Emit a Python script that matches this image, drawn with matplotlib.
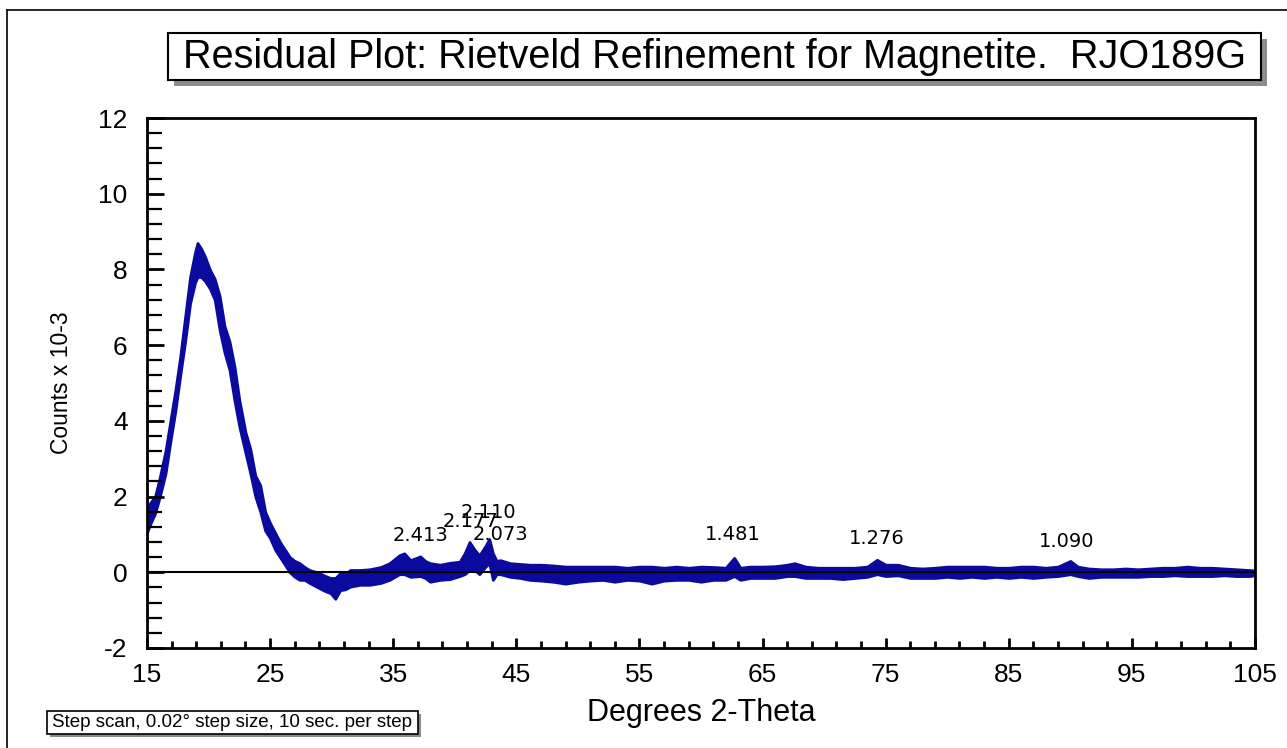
import numpy as np
import matplotlib
matplotlib.use("Agg")
import matplotlib.pyplot as plt
from matplotlib.patches import Rectangle
from matplotlib.lines import Line2D

plt.rcParams['font.family'] = ['Liberation Sans', 'DejaVu Sans']
plt.rcParams['axes.unicode_minus'] = False

# residual band: 2-theta, upper and lower edge (counts x 10-3)
two_theta = [15.0, 15.3, 15.65, 16.0, 16.5, 16.9, 17.3, 17.7, 18.1, 18.5, 18.9, 19.1,
             19.4, 19.7, 20.1, 20.5, 20.9, 21.3, 21.7, 22.1, 22.5, 23.0, 23.4, 23.8,
             24.2, 24.6, 25.0, 25.4, 25.8, 26.2, 26.6, 27.0, 27.4, 27.8, 28.2, 28.6,
             29.0, 29.5, 29.9, 30.3, 30.7, 31.1, 31.5, 32.3, 33.1, 34.0, 34.7, 35.5,
             35.9, 36.4, 37.2, 37.6, 38.0, 38.8, 39.6, 40.4, 40.8, 41.2, 41.6, 42.0,
             42.5, 42.8, 43.1, 43.4, 43.7, 44.5, 45.3, 46.1, 47.0, 48.0, 49.0, 50.0,
             51.0, 52.0, 53.0, 54.0, 55.0, 56.0, 57.0, 58.0, 59.0, 60.0, 61.0, 62.0,
             62.7, 63.2, 64.0, 65.0, 66.0, 67.0, 67.6, 68.5, 69.5, 70.5, 71.5, 72.5,
             73.5, 74.3, 75.0, 76.0, 77.0, 78.0, 79.0, 80.0, 81.0, 82.0, 83.0, 84.0,
             85.0, 86.0, 87.0, 88.0, 89.0, 90.0, 90.6, 91.5, 92.5, 93.5, 94.5, 95.5,
             96.5, 97.5, 98.5, 99.5, 100.5, 101.5, 102.5, 103.5, 104.5, 105.0]
resid_hi = [1.7, 1.85, 2.0, 2.45, 3.2, 4.0, 4.8, 5.7, 6.75, 7.8, 8.45, 8.7,
            8.55, 8.35, 8.0, 7.75, 7.3, 6.5, 6.1, 5.45, 4.55, 3.7, 3.25, 2.55,
            2.3, 1.6, 1.3, 1.05, 0.8, 0.6, 0.4, 0.3, 0.24, 0.14, 0.06, 0.02,
            -0.02, -0.1, -0.15, -0.15, -0.02, -0.05, 0.06, 0.06, 0.08, 0.14, 0.24, 0.45,
            0.5, 0.32, 0.42, 0.3, 0.24, 0.2, 0.25, 0.28, 0.5, 0.8, 0.6, 0.45,
            0.7, 0.88, 0.5, 0.3, 0.32, 0.24, 0.22, 0.2, 0.2, 0.18, 0.15, 0.15,
            0.15, 0.15, 0.15, 0.12, 0.15, 0.15, 0.12, 0.15, 0.12, 0.15, 0.14, 0.12,
            0.38, 0.12, 0.15, 0.15, 0.16, 0.2, 0.24, 0.15, 0.12, 0.12, 0.12, 0.12,
            0.15, 0.33, 0.2, 0.2, 0.12, 0.1, 0.12, 0.15, 0.15, 0.15, 0.15, 0.12,
            0.12, 0.15, 0.15, 0.12, 0.15, 0.3, 0.15, 0.1, 0.08, 0.08, 0.1, 0.08,
            0.1, 0.12, 0.12, 0.15, 0.12, 0.12, 0.1, 0.08, 0.06, 0.05]
resid_lo = [1.05, 1.3, 1.55, 1.95, 2.6, 3.45, 4.25, 5.2, 6.1, 7.1, 7.65, 7.8,
            7.8, 7.7, 7.5, 7.2, 6.4, 5.8, 5.35, 4.55, 3.85, 3.15, 2.6, 2.0,
            1.6, 1.1, 0.9, 0.6, 0.4, 0.2, 0.0, -0.12, -0.2, -0.2, -0.28, -0.35,
            -0.42, -0.5, -0.55, -0.7, -0.47, -0.45, -0.38, -0.33, -0.33, -0.28, -0.2, -0.05,
            -0.05, -0.12, -0.1, -0.15, -0.25, -0.2, -0.18, -0.1, -0.05, 0.06, 0.06, -0.05,
            0.15, 0.24, -0.2, -0.05, -0.05, -0.12, -0.15, -0.2, -0.22, -0.25, -0.3, -0.25,
            -0.22, -0.2, -0.25, -0.2, -0.22, -0.3, -0.22, -0.2, -0.2, -0.25, -0.2, -0.2,
            -0.1, -0.2, -0.15, -0.15, -0.15, -0.1, -0.1, -0.15, -0.15, -0.15, -0.18, -0.15,
            -0.12, -0.05, -0.1, -0.08, -0.15, -0.15, -0.15, -0.12, -0.15, -0.12, -0.15, -0.12,
            -0.15, -0.12, -0.15, -0.12, -0.1, -0.05, -0.1, -0.15, -0.12, -0.12, -0.12, -0.12,
            -0.1, -0.1, -0.08, -0.1, -0.1, -0.1, -0.08, -0.1, -0.1, -0.08]

# d-spacing labels and their centres (2-theta, counts x 10-3)
peak_labels = ['2.413', '2.177', '2.110', '2.073', '1.481', '1.276', '1.090']
peak_x = [37.2, 41.3, 42.7, 43.7, 62.6, 74.3, 89.7]
peak_y = [0.96, 1.33, 1.57, 1.01, 0.99, 0.88, 0.82]

blue = '#0a0a9e'

fig = plt.figure(figsize=(12.87, 7.48), dpi=100)
ax = fig.add_axes([0.1142, 0.1337, 0.8609, 0.7085])

ax.fill_between(two_theta, resid_lo, resid_hi, color=blue, linewidth=2.0, edgecolor=blue)
ax.axhline(0, color='black', linewidth=1.5, zorder=3)

for lab, px, py in zip(peak_labels, peak_x, peak_y):
    ax.text(px, py, lab, ha='center', va='center', fontsize=14,
            family=['DejaVu Sans'], color='black')

ax.set_xlim(15, 105)
ax.set_ylim(-2, 12)
ax.set_xticks(np.arange(15, 106, 10))
ax.set_xticks(np.arange(15, 106, 2), minor=True)
ax.set_yticks(np.arange(-2, 12.1, 2))
ax.set_yticks(np.arange(-2, 12.01, 0.4), minor=True)

ax.tick_params(axis='x', which='major', direction='in', length=7, width=2, labelsize=19, pad=11)
ax.tick_params(axis='x', which='minor', direction='in', length=5, width=2)
ax.tick_params(axis='y', which='major', direction='in', length=12, width=2, labelsize=19, pad=14)
ax.tick_params(axis='y', which='minor', direction='in', length=11, width=1.6)
for s in ax.spines.values():
    s.set_linewidth(2)

ax.set_xlabel('Degrees 2-Theta', fontsize=22, labelpad=8)
ax.set_ylabel('Counts x 10-3', fontsize=16.5, labelpad=18)

# title box with drop shadow (pixel coords converted to figure fraction)
W, H = 1287.0, 748.0
def fbox(x0, y0, x1, y1, **kw):
    return Rectangle((x0 / W, 1 - y1 / H), (x1 - x0) / W, (y1 - y0) / H,
                     transform=fig.transFigure, **kw)

fig.patches.append(fbox(174, 39, 1267, 86, facecolor='#8c8c8c', edgecolor='none'))
fig.patches.append(fbox(168, 33, 1261, 80, facecolor='white', edgecolor='black', linewidth=1.5))
fig.text((168 + 1261) / 2 / W, 1 - 57 / H,
         'Residual Plot: Rietveld Refinement for Magnetite.  RJO189G',
         ha='center', va='center', fontsize=28.5)

fig.patches.append(fbox(50, 714, 421, 737, facecolor='#8c8c8c', edgecolor='none'))
fig.patches.append(fbox(47, 711, 418, 734, facecolor='white', edgecolor='black', linewidth=1.2))
fig.text(52 / W, 1 - 722.5 / H, 'Step scan, 0.02\u00b0 step size, 10 sec. per step',
         ha='left', va='center', fontsize=13.5)

# outer frame lines
fig.add_artist(Line2D([7 / W, 7 / W], [0, 1 - 10 / H], transform=fig.transFigure,
                      color='black', linewidth=1.2))
fig.add_artist(Line2D([7 / W, 1], [1 - 10 / H, 1 - 10 / H], transform=fig.transFigure,
                      color='black', linewidth=1.2))

fig.savefig('out.png', dpi=100)
